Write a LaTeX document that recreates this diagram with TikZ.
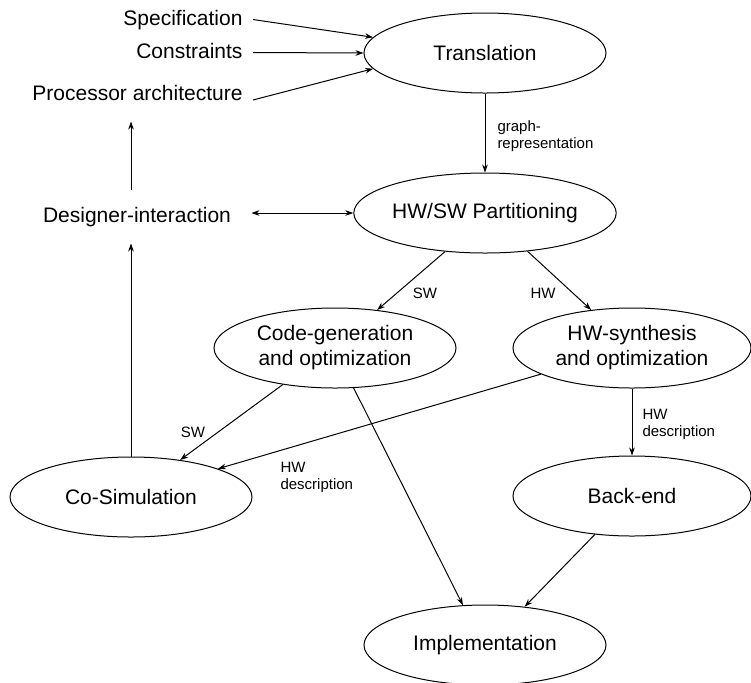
\documentclass[tikz,border=0pt]{standalone}
\usepackage{fontspec}
\setmainfont{Liberation Sans}
\usetikzlibrary{arrows.meta,shapes.geometric}

\begin{document}
\begin{tikzpicture}[
    x=0.5pt, y=-0.5pt,
    >={Stealth[length=4pt,width=2.8pt]},
    line width=0.5pt,
    font=\fontsize{10.5}{12.5}\selectfont,
    stage/.style={
        ellipse, draw, align=center, inner sep=0pt,
        minimum width=121pt, minimum height=40pt
    },
    input/.style={
        inner xsep=5pt, inner ysep=8pt,
        text height=8pt, text depth=2.5pt
    },
    lbl/.style={
        font=\fontsize{7.5}{8.5}\selectfont,
        align=left, inner sep=0pt
    }
]
\useasboundingbox (0,0) rectangle (751,682);

% design flow stages
\node[stage] (trans) at (485,53) {Translation};
\node[stage] (part) at (485,213) {HW/SW Partitioning};
\node[stage] (codegen) at (335,348) {Code-generation\\and optimization};
\node[stage, minimum width=119pt] (hwsyn) at (632,348) {HW-synthesis\\and optimization};
\node[stage] (cosim) at (131,497) {Co-Simulation};
\node[stage, minimum width=119pt] (backend) at (632,496) {Back-end};
\node[stage] (impl) at (485,645) {Implementation};

% inputs on the left
\node[input, anchor=base east] (spec) at (253,25) {Specification};
\node[input, anchor=base east] (cons) at (253,58) {Constraints};
\node[input, anchor=base east] (proc) at (253,100) {Processor architecture};
\node[input, anchor=base, inner xsep=10pt] (desig) at (137,222) {Designer-interaction};

\draw[->] (spec.east) -- (trans.172);
\draw[->] (cons.east) -- (trans.west);
\draw[->] (proc.base east) -- (trans.188);

\draw[->] (trans) -- (part);
\draw[<->] (desig.east |- part.west) -- (part.west);

\draw[->] (part.224) -- (codegen.42);
\draw[->] (part.318) -- (hwsyn.137);
\draw[->] (codegen.215) -- (cosim.37);
\draw[->] (hwsyn.196) -- (cosim.18);
\draw[->] (hwsyn) -- (backend);
\draw[->] (codegen.295) -- (impl.119);
\draw[->] (backend.226) -- (impl.44);

% feedback to the designer
\draw[->] (cosim.north) -- (cosim.north |- desig.south);
\draw[->] (desig.north -| cosim.north) -- (cosim.north |- proc.south);

% edge labels
\node[lbl, anchor=west] (grlbl) at (497,136) {graph-\\representation};
\node[lbl] (swtop) at (425,293) {SW};
\node[lbl] (hwtop) at (543,293) {HW};
\node[lbl] (swlow) at (193,432) {SW};
\node[lbl, anchor=west] (hwdlow) at (280,477) {HW\\description};
\node[lbl, anchor=west] (hwdtop) at (642,424) {HW\\description};

\end{tikzpicture}
\end{document}
